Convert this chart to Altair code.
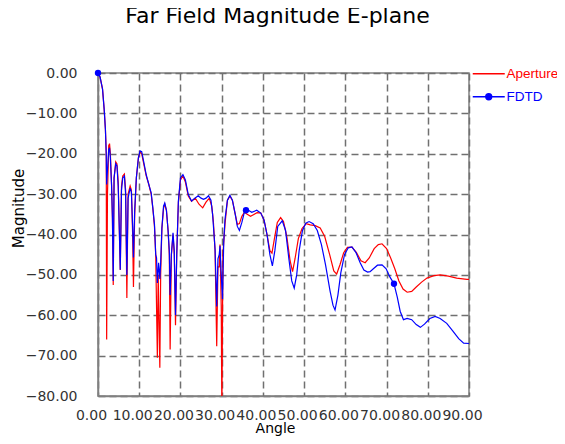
import altair as alt
import pandas as pd

aperture_angle = [0, 0.5, 1.1, 1.5, 1.8, 2.0, 2.1, 2.3, 2.6, 2.8,
                  3.0, 3.3, 3.5, 3.7, 3.9, 4.3, 4.6, 4.9, 5.2, 5.4,
                  5.7, 6.0, 6.4, 6.7, 7.0, 7.3, 7.8, 8.1, 8.4, 8.6,
                  8.9, 9.3, 9.8, 10.2, 10.6, 11.0, 11.7, 12.3, 12.9, 13.3,
                  13.7, 14.0, 14.4, 14.6, 15.0, 15.2, 15.5, 15.9, 16.2, 16.6,
                  17.0, 17.3, 17.5, 17.8, 18.2, 18.5, 18.8, 19.1, 19.5, 20.0,
                  20.6, 21.2, 21.9, 22.7, 23.6, 24.5, 25.4, 26.2, 27.0, 27.6,
                  28.0, 28.4, 28.8, 29.1, 29.4, 29.6, 29.9, 30.05, 30.3, 30.8,
                  31.4, 32.0, 32.6, 33.3, 33.8, 34.3, 34.9, 35.5, 36.2, 37.0,
                  37.7, 38.6, 39.5, 40.3, 41.0, 41.7, 42.2, 42.8, 43.5, 44.3,
                  45.0, 45.8, 46.6, 47.2, 47.8, 48.6, 49.5, 50.5, 51.5, 52.7,
                  53.9, 55.0, 56.2, 57.2, 57.9, 58.7, 59.6, 60.5, 61.6, 62.7,
                  63.8, 64.8, 65.8, 67.0, 68.0, 68.9, 70.0, 71.0, 72.0, 73.0,
                  74.0, 75.0, 76.1, 77.2, 78.5, 79.8, 81.5, 83.0, 85.0, 87.0,
                  89.5, 90.0]
aperture_mag = [0, -1, -4, -9, -14, -20, -66, -30, -18, -17.5,
                -20, -28, -36, -52.5, -26, -22, -22.5, -27, -40, -48.8,
                -28, -25.5, -25, -29, -55.7, -30, -28, -29, -40, -53,
                -35, -26, -21, -19.5, -20, -22, -25.5, -27.5, -30, -33.5,
                -38, -45, -70.5, -50, -73, -50, -38.5, -33.5, -32.5, -34,
                -39, -45, -68.5, -45, -40, -45, -62.5, -45, -32, -26.5,
                -25.5, -27, -30.5, -31.8, -31, -32.5, -33.4, -32, -31, -33,
                -37, -44, -67.7, -48, -48, -42.5, -58, -85, -45, -37.5,
                -31.5, -30.5, -31.5, -35, -37.5, -37.3, -35.5, -34.5, -35, -35.5,
                -35.1, -34.6, -34.7, -36.5, -40, -44, -44.6, -41, -37, -35.8,
                -36.8, -40.5, -46.5, -49.2, -46, -41, -38.5, -37.3, -37.6, -37.8,
                -38.4, -40.5, -45, -49, -49.8, -47.5, -44.5, -43.2, -43.1, -44.5,
                -46.5, -47, -45.8, -43.5, -42.5, -42.3, -43.5, -45.8, -48.5, -51.5,
                -53.5, -54.3, -54.1, -53, -51.8, -50.8, -50.2, -50, -50.3, -50.8,
                -51.1, -51.1]

fdtd_angle = [0, 0.5, 1.1, 1.5, 1.8, 2.0, 2.1, 2.3, 2.6, 2.8,
              3.0, 3.3, 3.5, 3.7, 3.9, 4.3, 4.6, 4.9, 5.2, 5.4,
              5.7, 6.0, 6.4, 6.7, 7.0, 7.3, 7.8, 8.1, 8.4, 8.6,
              8.9, 9.3, 9.8, 10.2, 10.6, 11.0, 11.7, 12.3, 12.9, 13.3,
              13.7, 14.0, 14.2, 14.4, 14.7, 15.0, 15.2, 15.5, 15.9, 16.2,
              16.6, 17.0, 17.3, 17.5, 17.8, 18.2, 18.5, 18.8, 19.1, 19.5,
              20.0, 20.6, 21.2, 21.9, 22.7, 23.5, 24.3, 25.0, 25.6, 26.2,
              26.8, 27.4, 27.8, 28.4, 28.8, 29.1, 29.4, 29.6, 29.9, 30.2,
              30.5, 30.8, 31.4, 32.0, 32.6, 33.3, 33.8, 34.3, 34.9, 35.5,
              35.9, 36.5, 37.3, 38.5, 39.5, 40.3, 41.0, 41.7, 42.3, 42.9,
              43.6, 44.7, 45.5, 46.3, 47.0, 47.6, 48.2, 48.8, 49.6, 50.4,
              51.2, 52.2, 53.2, 54.2, 55.2, 56.3, 57.0, 57.5, 58.2, 58.9,
              59.8, 60.7, 61.6, 62.6, 63.6, 64.5, 65.4, 66.0, 66.8, 67.8,
              68.9, 69.9, 70.8, 71.8, 72.6, 73.3, 74.1, 75.0, 76.1, 77.2,
              78.2, 79.2, 80.5, 81.8, 83.0, 84.6, 86.0, 87.5, 88.7, 90.0]
fdtd_mag = [0, -1, -4, -9, -14, -20, -27.6, -24, -19, -18.5,
            -21, -28, -36, -51.5, -26, -22.5, -23, -28, -40, -48.7,
            -29, -26, -25.5, -30, -50, -31, -28.5, -29.5, -38, -45.7,
            -34, -26, -21, -19.3, -19.5, -21.5, -25.2, -27.5, -29.7, -33.4,
            -37.5, -45, -45.8, -52, -47, -51, -47, -38.4, -33, -32.2,
            -34, -39, -44, -55, -45, -39.6, -44, -60, -45, -31.7,
            -26, -25.2, -26.5, -30.1, -31.7, -31, -30.4, -31, -31.3, -31,
            -30.4, -31.5, -35, -43.7, -57.8, -46, -45, -42.8, -50, -56,
            -42, -36.3, -31.5, -30.3, -31.5, -35, -38, -39, -37, -34.5,
            -34, -34, -34.5, -34, -34.7, -36.5, -40, -45, -47.8, -44,
            -38, -36.6, -39, -46, -51.5, -53.3, -50, -44, -39, -37.2,
            -36.8, -37.3, -39, -42.5, -47.5, -54, -57.5, -58.7, -55, -49.5,
            -45, -43.3, -43.1, -44.5, -47, -48.8, -49.3, -49.2, -48.5, -47.6,
            -47.5, -48.5, -50.5, -52.2, -55.5, -59, -61.1, -60.8, -61.1, -62.3,
            -63, -62.2, -60.8, -60.3, -60.8, -62, -63.8, -65.8, -66.9, -67]
fdtd_marker_angles = [0, 35.9, 71.8]

series_names = ["Aperture", "FDTD"]
series_colors = ["#ff0000", "#0000ff"]
x_ticks = [0, 10, 20, 30, 40, 50, 60, 70, 80, 90]
y_ticks = [0, -10, -20, -30, -40, -50, -60, -70, -80]

df = pd.concat([
    pd.DataFrame({"Angle": aperture_angle, "Magnitude": aperture_mag, "Series": "Aperture", "order": range(len(aperture_angle))}),
    pd.DataFrame({"Angle": fdtd_angle, "Magnitude": fdtd_mag, "Series": "FDTD", "order": range(len(fdtd_angle))}),
], ignore_index=True)
markers = df[(df.Series == "FDTD") & (df.Angle.isin(fdtd_marker_angles))]

grid_color = "#707070"
x_enc = alt.X("Angle:Q", scale=alt.Scale(domain=[0, 90], nice=False),
              axis=alt.Axis(values=x_ticks, format=".2f", title="Angle",
                            labelOverlap=False, labelFlush=False, ticks=False,
                            labelPadding=12, labelOffset=-7,
                            titleX=177, titleY=25, titleBaseline="top", titleFontSize=14))
y_enc = alt.Y("Magnitude:Q", scale=alt.Scale(domain=[-80, 0], nice=False, zero=False),
              axis=alt.Axis(values=y_ticks, format=".2f", title="Magnitude",
                            ticks=False, labelPadding=21,
                            titleX=-80, titleY=135, titleBaseline="middle"))

lines = alt.Chart(df).mark_line(strokeWidth=1.2, clip=True).encode(
    x=x_enc, y=y_enc,
    order="order:Q",
    color=alt.Color("Series:N",
                    scale=alt.Scale(domain=series_names, range=series_colors),
                    legend=alt.Legend(
                        title=None, orient="none", legendX=384, legendY=-6,
                        padding=0, rowPadding=8,
                        symbolType=alt.ExprRef(expr="datum.value == 'FDTD' ? 'M-4,0H4M-0.75,0A0.75,0.75,0,1,1,0.75,0A0.75,0.75,0,1,1,-0.75,0Z' : 'M-4,0H4'"),
                        symbolSize=64, symbolStrokeWidth=1.3,
                        symbolFillColor=alt.ExprRef(expr="datum.value == 'FDTD' ? '#0000ff' : 'transparent'"),
                        labelColor=alt.ExprRef(expr="datum.value == 'Aperture' ? '#ff0000' : '#0000ff'"),
                        labelFont="Liberation Sans", labelFontSize=13.5, labelOffset=11)),
)

points = alt.Chart(markers).mark_point(filled=True, size=40, opacity=1, color="#0000ff").encode(
    x="Angle:Q", y="Magnitude:Q"
)

chart = alt.layer(lines, points).properties(
    width=371, height=323,
    background="white",
    title=alt.TitleParams("Far Field Magnitude E-plane", font="DejaVu Sans", fontSize=22,
                          fontWeight="normal", color="#000000", anchor="middle",
                          baseline="alphabetic", offset=21, dx=-6),
    autosize=alt.AutoSizeParams(type="none"),
    padding={"left": 90, "top": 65, "right": 88, "bottom": 40},
).configure_view(stroke="#808080", strokeWidth=1.5).configure_axis(
    grid=True, gridColor=grid_color, gridDash=[7, 4], gridWidth=1.5, gridOpacity=1,
    domainColor="#808080", domainWidth=1.5,
    labelFont="DejaVu Sans", labelFontSize=14, labelColor="#333333",
    titleFont="DejaVu Sans", titleFontSize=15, titleFontWeight="normal", titleColor="#000000",
)

chart.save("out.html", embed_options={"renderer": "svg", "actions": False})
